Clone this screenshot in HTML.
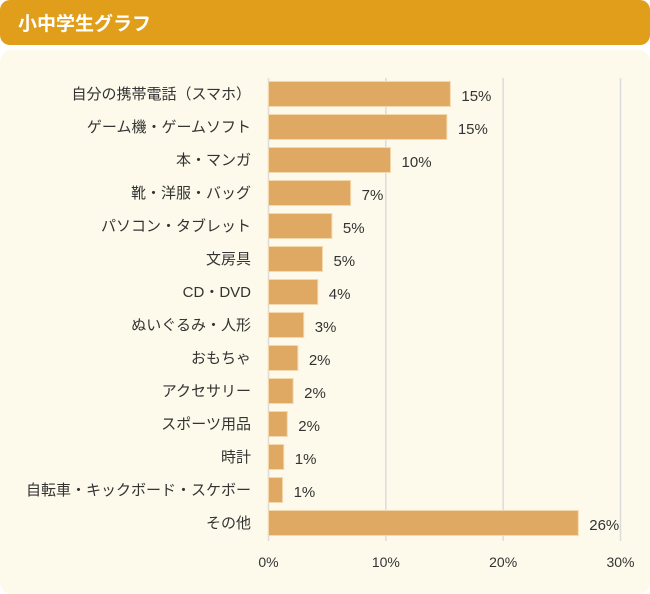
<!DOCTYPE html>
<html><head><meta charset="utf-8"><style>
body{margin:0;background:#fff;width:650px;height:594px;overflow:hidden;font-family:"Liberation Sans","Noto Sans CJK JP",sans-serif}
#hdr{position:absolute;left:0;top:0;width:650px;height:45px;background:#e09e1a;border-radius:10px}
#hdr span{position:absolute;left:18px;top:9px;color:#fff;font-size:19px;font-weight:bold}
#panel{position:absolute;left:0;top:50px;width:650px;height:544px;background:#fdfaeb;border-radius:12px}
svg{position:absolute;left:0;top:0}
</style></head><body>
<div id="hdr"><span>小中学生グラフ</span></div>
<div id="panel"></div>
<svg id="c" width="650" height="594"></svg>
<script>
const categories=["自分の携帯電話（スマホ）","ゲーム機・ゲームソフト","本・マンガ","靴・洋服・バッグ","パソコン・タブレット","文房具","CD・DVD","ぬいぐるみ・人形","おもちゃ","アクセサリー","スポーツ用品","時計","自転車・キックボード・スケボー","その他"];
const values=[15.5,15.2,10.4,7.0,5.4,4.6,4.2,3.0,2.5,2.1,1.6,1.3,1.2,26.4];
const labels=["15%","15%","10%","7%","5%","5%","4%","3%","2%","2%","2%","1%","1%","26%"];
const ticks=[0,10,20,30];
const NS="http://www.w3.org/2000/svg";
const svg=document.getElementById('c');
const x=v=>268.5+v*(620.5-268.5)/30;
const yc=i=>94+i*33;
function mk(t,a){const e=document.createElementNS(NS,t);for(const k in a)e.setAttribute(k,a[k]);svg.appendChild(e);return e;}
ticks.forEach(t=>{
 const l=mk('line',{x1:x(t),x2:x(t),y1:78,y2:541,stroke:'#dcdcdc','stroke-width':1.5});
 
 
 const tx=mk('text',{x:x(t),y:567,'text-anchor':'middle','font-size':14,fill:'#333'});
 tx.textContent=t+'%';
 
 
});
categories.forEach((c,i)=>{
 const r=mk('rect',{x:x(0),y:yc(i)-12.5,width:x(values[i])-x(0),height:25,fill:'#dfa964',stroke:'#f3d7ad','stroke-width':1});
 
 
 const t=mk('text',{x:251,y:yc(i)+5,'text-anchor':'end','font-size':15,fill:'#333'});
 t.textContent=c;
 
 
 const v=mk('text',{x:x(values[i])+11,y:yc(i)+7,'font-size':15,fill:'#333'});
 v.textContent=labels[i];
 
 
});
</script>
</body></html>
